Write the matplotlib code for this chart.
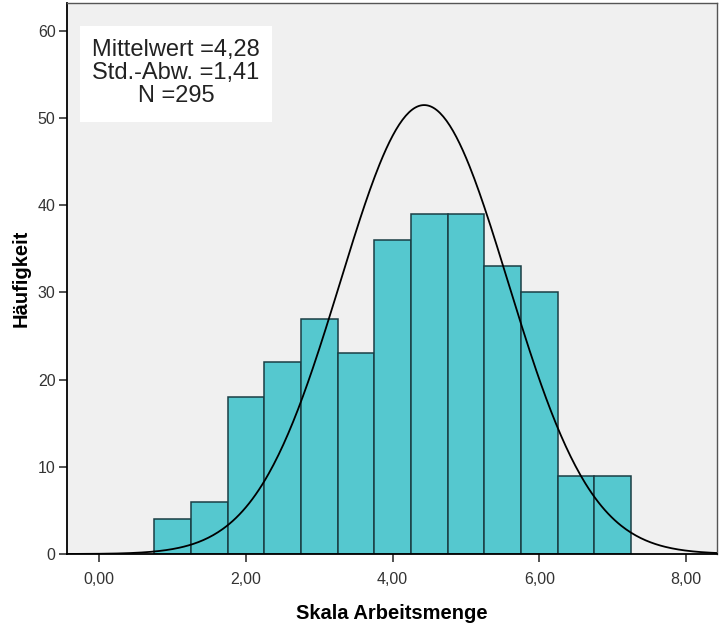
import matplotlib
matplotlib.use('Agg')
import matplotlib.pyplot as plt
import numpy as np

# histogram data
bin_edges = np.arange(0.75, 7.26, 0.5)
counts = [4, 6, 18, 22, 27, 23, 36, 39, 39, 33, 30, 9, 9]
n_total = 295
bin_width = 0.5
# normal curve as drawn
curve_mean = 4.43
curve_sd = 1.143
stats_text = 'Mittelwert =4,28\nStd.-Abw. =1,41\nN =295'
xticks = [0, 2, 4, 6, 8]
xticklabels = ['0,00', '2,00', '4,00', '6,00', '8,00']
yticks = [0, 10, 20, 30, 40, 50, 60]

plt.rcParams['font.family'] = ['Liberation Sans', 'DejaVu Sans']

fig = plt.figure(figsize=(7.2, 6.27), dpi=100)
ax = fig.add_axes([0.0926, 0.1164, 0.9039, 0.8783])
ax.set_facecolor('#F0F0F0')

ax.bar(bin_edges[:-1], counts, width=bin_width, align='edge',
       color='#55C8CF', edgecolor='#1A3E44', linewidth=1.1, zorder=2)

xs = np.linspace(-0.45, 8.43, 400)
ys = n_total * bin_width * np.exp(-0.5 * ((xs - curve_mean) / curve_sd) ** 2) / (curve_sd * np.sqrt(2 * np.pi))
ax.plot(xs, ys, color='black', linewidth=1.3, zorder=3)

ax.set_xlim(-0.445, 8.43)
ax.set_ylim(0, 63.15)
ax.set_xticks(xticks)
ax.set_xticklabels(xticklabels)
ax.set_yticks(yticks)
ax.tick_params(direction='out', length=6, width=1.2, colors='#333333', labelsize=11.5, pad=2)
ax.tick_params(axis='x', pad=7)

for s in ['left', 'bottom']:
    ax.spines[s].set_color('black')
    ax.spines[s].set_linewidth(1.3)
for s in ['top', 'right']:
    ax.spines[s].set_color('#555555')
    ax.spines[s].set_linewidth(1.0)

ax.set_xlabel('Skala Arbeitsmenge', fontsize=14.5, fontweight='bold', labelpad=12)
ax.set_ylabel('Häufigkeit', fontsize=14.5, fontweight='bold', labelpad=5)

# white stats box
ax.add_patch(plt.Rectangle((80 / 720, 1 - 122 / 627), 192 / 720, 96 / 627,
                           transform=fig.transFigure, facecolor='white',
                           edgecolor='none', zorder=4))
fig.text(176 / 720, 1 - 73 / 627, stats_text, ha='center', va='center',
         fontsize=17, linespacing=1.08, color='#222222', zorder=5)

fig.savefig('out.png', dpi=100)
